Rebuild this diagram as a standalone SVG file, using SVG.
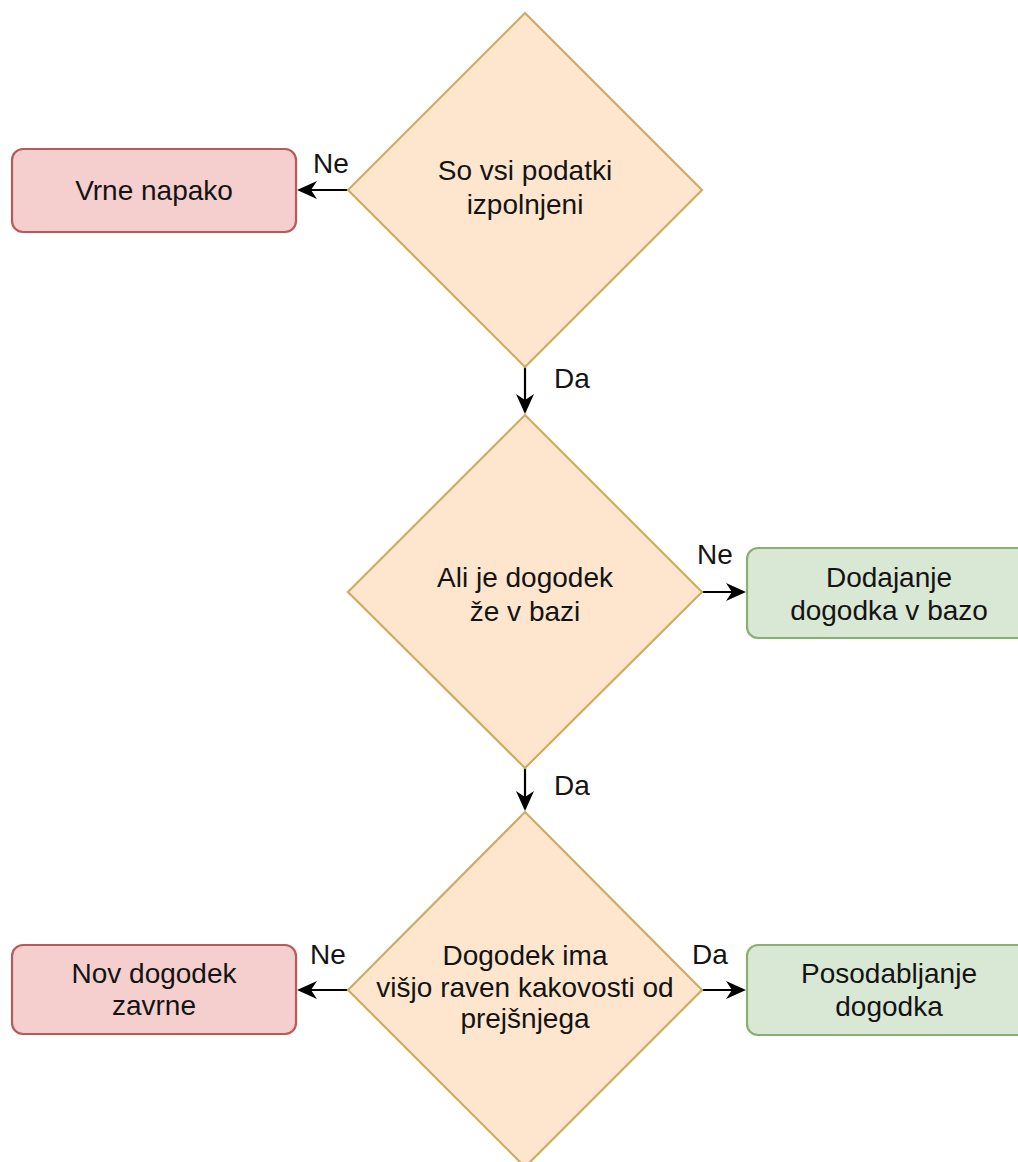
<svg xmlns="http://www.w3.org/2000/svg" width="1018" height="1162" viewBox="0 0 1018 1162">
  <style>
    .dec { fill: #fde6cd; stroke: #cfac62; stroke-width: 2.2; }
    .bad { fill: #f5cfcd; stroke: #b85a56; stroke-width: 2.2; }
    .ok { fill: #d8e8d4; stroke: #88b070; stroke-width: 2.2; }
    text { font-family: "Liberation Sans", Arial, Helvetica, sans-serif; font-size: 28px; fill: #141414; }
    .c { text-anchor: middle; }
    .edge { stroke: #000; stroke-width: 2.2; fill: none; marker-end: url(#arrow); }
  </style>
  <defs>
    <!-- notched arrowhead, drawn in user units -->
    <marker id="arrow" markerWidth="20" markerHeight="20" refX="18" refY="10" orient="auto" markerUnits="userSpaceOnUse">
      <path d="M0,1 L20,10 L0,19 L6,10 Z" fill="#000"/>
    </marker>
  </defs>
  <rect width="1018" height="1162" fill="#fff"/>

  <!-- connectors -->
  <g id="connectors">
    <line class="edge" x1="348" y1="190" x2="299" y2="190"/>
    <text x="313" y="173">Ne</text>
    <line class="edge" x1="525" y1="367" x2="525" y2="412"/>
    <text x="554" y="388">Da</text>
    <line class="edge" x1="702" y1="592" x2="744" y2="592"/>
    <text x="697" y="564">Ne</text>
    <line class="edge" x1="525" y1="768" x2="525" y2="809"/>
    <text x="554" y="795">Da</text>
    <line class="edge" x1="348" y1="990" x2="299" y2="990"/>
    <text x="310" y="964">Ne</text>
    <line class="edge" x1="702" y1="990" x2="744" y2="990"/>
    <text x="692" y="964">Da</text>
  </g>

  <!-- decisions -->
  <g id="check-filled">
    <polygon class="dec" points="525,13 702,190 525,367 348,190"/>
    <text class="c" x="525" y="180">So vsi podatki</text>
    <text class="c" x="525" y="214">izpolnjeni</text>
  </g>
  <g id="check-exists">
    <polygon class="dec" points="525,415 702,592 525,768 348,592"/>
    <text class="c" x="525" y="587">Ali je dogodek</text>
    <text class="c" x="525" y="621">že v bazi</text>
  </g>
  <g id="check-quality">
    <polygon class="dec" points="525,812 702,990 525,1167 348,990"/>
    <text class="c" x="525" y="965">Dogodek ima</text>
    <text class="c" x="525" y="997">višjo raven kakovosti od</text>
    <text class="c" x="525" y="1028">prejšnjega</text>
  </g>

  <!-- outcomes -->
  <g id="error">
    <rect class="bad" x="12" y="149" width="284" height="83" rx="11"/>
    <text class="c" x="154" y="200">Vrne napako</text>
  </g>
  <g id="add-event">
    <rect class="ok" x="747" y="548" width="284" height="90" rx="11"/>
    <text class="c" x="889" y="587">Dodajanje</text>
    <text class="c" x="889" y="620">dogodka v bazo</text>
  </g>
  <g id="reject-new">
    <rect class="bad" x="12" y="945" width="284" height="89" rx="11"/>
    <text class="c" x="154" y="983">Nov dogodek</text>
    <text class="c" x="154" y="1015">zavrne</text>
  </g>
  <g id="update-event">
    <rect class="ok" x="747" y="945" width="284" height="90" rx="11"/>
    <text class="c" x="889" y="983">Posodabljanje</text>
    <text class="c" x="889" y="1016">dogodka</text>
  </g>
</svg>
